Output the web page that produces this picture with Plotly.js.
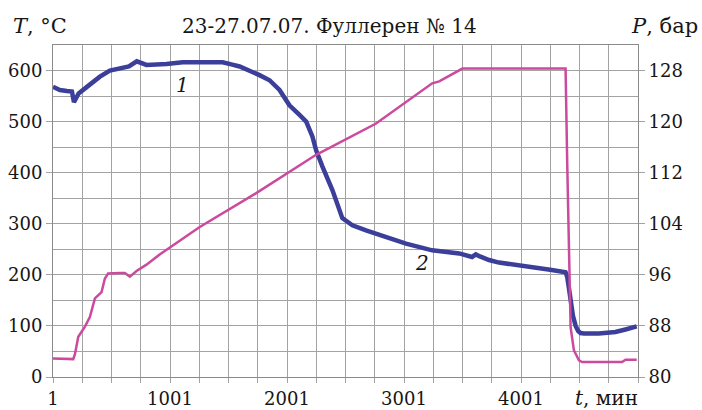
<!DOCTYPE html>
<html>
<head>
<meta charset="utf-8">
<script src="https://cdn.plot.ly/plotly-3.0.1.min.js"></script>
<style>html,body{margin:0;padding:0;background:#fff;}#chart{width:702px;height:410px;}</style>
</head>
<body>
<div id="chart"></div>
<script>
// Temperature curve (1), left axis, °C
const timeT = [1, 60, 120, 163, 180, 220, 291, 350, 402, 487, 572, 650, 717, 800, 970, 1110, 1255, 1451, 1525, 1596, 1766, 1852, 1937, 2022, 2108, 2165, 2218, 2250, 2304, 2389, 2474, 2560, 2676, 2847, 3018, 3242, 3472, 3583, 3615, 3650, 3728, 3813, 3950, 4095, 4250, 4382, 4396, 4410, 4425, 4445, 4468, 4490, 4510, 4540, 4666, 4808, 4894, 4990];
const tempT = [568, 562, 560, 559, 538, 555, 568, 580, 588, 600, 605, 608, 618, 611, 613, 616, 616, 616, 612, 608, 591, 581, 562, 532, 513, 500, 471, 444, 412, 366, 311, 297, 287, 274, 261, 248, 242, 235, 240, 236, 229, 224, 220, 216, 210, 205, 196, 175, 145, 120, 100, 90, 86, 85, 85, 88, 93, 99];
// Pressure curve (2), right axis, bar
const timeP = [1, 174, 189, 217, 274, 316, 359, 416, 444, 472, 572, 615, 658, 715, 800, 913, 1255, 1738, 2250, 2762, 3242, 3302, 3500, 3813, 4100, 4382, 4396, 4410, 4425, 4453, 4496, 4524, 4865, 4894, 4990];
const presP = [82.9, 82.8, 83.6, 86.3, 87.9, 89.4, 92.3, 93.3, 95.4, 96.2, 96.3, 96.3, 95.7, 96.6, 97.6, 99.2, 103.5, 108.8, 114.8, 119.7, 126.0, 126.3, 128.3, 128.3, 128.3, 128.3, 113.5, 102.5, 87.8, 84.2, 82.6, 82.35, 82.35, 82.7, 82.7];
// Tick settings
const xTickVals = [1, 1001, 2001, 3001, 4001];
const xTickText = ['1', '1001', '2001', '3001', '4001'];
const leftTickVals = [0, 100, 200, 300, 400, 500, 600];
const rightTickVals = [80, 88, 96, 104, 112, 120, 128];

const serif = 'DejaVu Serif, Liberation Serif, serif';
const gridC = '#a3a3a3';
const txtC = '#161616';

const traces = [
  {x: timeP, y: presP, yaxis: 'y2', mode: 'lines', line: {color: '#cc4a9e', width: 2.5}, hoverinfo: 'skip'},
  {x: timeT, y: tempT, mode: 'lines', line: {color: '#3c3f9a', width: 4.5}, hoverinfo: 'skip'}
];

const layout = {
  width: 702, height: 410,
  margin: {l: 53, r: 64, t: 45, b: 33},
  paper_bgcolor: '#fff', plot_bgcolor: '#fff',
  showlegend: false,
  font: {family: serif, size: 18, color: txtC},
  xaxis: {
    range: [1, 5001], tickvals: xTickVals, ticktext: xTickText,
    ticks: 'outside', ticklen: 5, tickcolor: gridC,
    showgrid: true, gridcolor: gridC, gridwidth: 1,
    minor: {tick0: 1, dtick: 250, showgrid: true, gridcolor: gridC, ticks: 'outside', ticklen: 5, tickcolor: gridC},
    showline: true, linecolor: '#8a8a8a', linewidth: 1, mirror: true, zeroline: false,
    tickfont: {family: serif, size: 18}
  },
  yaxis: {
    range: [0, 650], tickvals: leftTickVals,
    ticks: 'outside', ticklen: 6, tickcolor: gridC,
    showgrid: true, gridcolor: gridC,
    minor: {dtick: 50, showgrid: true, gridcolor: gridC},
    showline: true, linecolor: '#8a8a8a', mirror: true, zeroline: false,
    tickfont: {family: serif, size: 18}
  },
  yaxis2: {
    range: [80, 132], tickvals: rightTickVals, overlaying: 'y', side: 'right',
    ticks: 'outside', ticklen: 6, tickcolor: gridC,
    showgrid: false, showline: false, zeroline: false,
    tickfont: {family: serif, size: 18}
  },
  annotations: [
    {text: '<i>T</i>, °C', xref: 'paper', yref: 'paper', x: -0.072, y: 1.057, xanchor: 'left', yanchor: 'middle', showarrow: false, font: {family: serif, size: 21, color: txtC}},
    {text: '<i>P</i>, бар', xref: 'paper', yref: 'paper', x: 1.106, y: 1.057, xanchor: 'right', yanchor: 'middle', showarrow: false, font: {family: serif, size: 21, color: txtC}},
    {text: '23-27.07.07. Фуллерен № 14', xref: 'paper', yref: 'paper', x: 0.472, y: 1.057, xanchor: 'center', yanchor: 'middle', showarrow: false, font: {family: serif, size: 20, color: txtC}},
    {text: '<i>t</i>, мин', xref: 'paper', yref: 'paper', x: 0.889, y: -0.062, xanchor: 'left', yanchor: 'middle', showarrow: false, font: {family: serif, size: 20, color: txtC}},
    {text: '<i>1</i>', xref: 'x', yref: 'y', x: 1105, y: 572, showarrow: false, font: {family: serif, size: 20, color: txtC}},
    {text: '<i>2</i>', xref: 'x', yref: 'y', x: 3157, y: 223, showarrow: false, font: {family: serif, size: 20, color: txtC}}
  ]
};

Plotly.newPlot('chart', traces, layout, {staticPlot: true, displayModeBar: false});
</script>
</body>
</html>
